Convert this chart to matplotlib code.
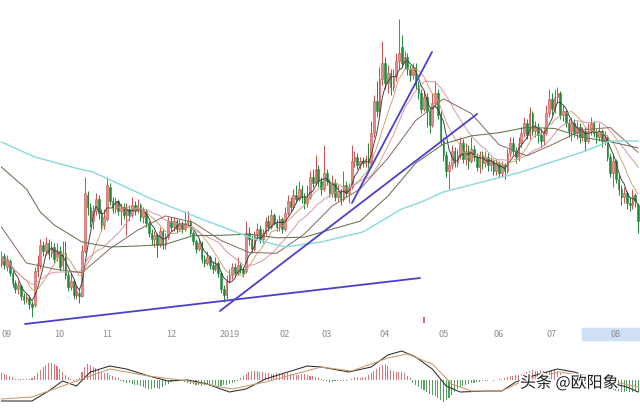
import numpy as np
import pandas as pd
import matplotlib
matplotlib.use("Agg")
import matplotlib.pyplot as plt
import matplotlib.patheffects as pe
from matplotlib.patches import Rectangle
from matplotlib.transforms import blended_transform_factory

plt.rcParams['font.family'] = ['Noto Sans CJK SC', 'DejaVu Sans']

# ---------------------------------------------------------------------------
# daily candles (Sep 2018 - Aug 2019)
# ---------------------------------------------------------------------------
opens = [
    7.5, 8.3, 7.2, 7.8, 6.6, 5.6, 5.0, 5.3, 4.3, 3.9,
    4.1, 3.5, 3.4, 6.8, 7.4, 9.4, 8.8, 9.6, 8.6, 9.2,
    8.2, 8.8, 7.4, 8.6, 6.4, 5.2, 5.8, 4.4, 4.6, 4.3,
    8.8, 14.4, 13.2, 11.8, 12.8, 14.0, 12.6, 11.4, 12.0, 15.2,
    13.8, 13.0, 13.8, 12.8, 13.2, 12.4, 13.0, 12.4, 13.4, 12.8,
    13.4, 12.2, 12.8, 11.6, 10.6, 10.0, 10.4, 9.4, 10.8, 9.4,
    10.2, 11.8, 11.2, 11.8, 11.0, 11.6, 11.0, 11.6, 11.8, 10.6,
    9.8, 9.0, 9.6, 8.0, 7.6, 8.2, 7.4, 7.0, 7.6, 6.6,
    5.0, 4.4, 5.8, 6.4, 7.2, 6.6, 7.4, 7.0, 6.8, 10.6,
    10.0, 9.0, 10.4, 11.0, 10.0, 10.6, 11.8, 11.2, 12.4, 11.6,
    11.2, 12.0, 11.0, 12.6, 13.8, 13.2, 14.4, 14.0, 15.0, 14.2,
    13.6, 14.2, 16.2, 15.6, 17.0, 15.8, 15.0, 16.6, 15.8, 14.6,
    15.6, 14.2, 14.8, 14.0, 15.4, 14.6, 15.2, 17.8, 18.2, 17.4,
    17.8, 17.6, 18.0, 17.6, 20.6, 23.8, 22.8, 26.0, 27.6, 25.6,
    26.6, 25.2, 26.2, 27.8, 29.2, 27.6, 28.2, 27.0, 26.4, 27.2,
    25.4, 24.6, 23.0, 24.2, 22.8, 21.4, 23.6, 24.6, 22.4, 19.8,
    18.4, 16.8, 17.4, 18.8, 17.6, 18.4, 19.6, 18.0, 18.8, 17.8,
    19.0, 18.2, 17.2, 18.4, 17.6, 18.2, 17.4, 17.8, 16.8, 17.6,
    16.6, 17.4, 16.8, 18.6, 19.6, 18.8, 18.2, 19.6, 20.6, 21.6,
    20.4, 22.6, 20.8, 21.2, 20.4, 19.8, 20.6, 22.6, 24.0, 23.0,
    24.2, 24.6, 22.4, 22.8, 21.6, 20.8, 21.6, 20.6, 21.2, 20.2,
    20.8, 19.8, 20.8, 21.6, 20.6, 20.2, 20.8, 19.8, 20.2, 18.2,
    16.6, 17.8, 16.0, 15.0, 14.2, 14.6, 13.6, 13.4, 14.4, 13.4,
]
closes = [
    8.3, 7.4, 8.0, 6.6, 5.6, 5.0, 5.4, 4.3, 3.9, 4.2,
    3.5, 3.2, 6.8, 7.6, 9.4, 8.8, 9.6, 8.5, 9.2, 8.0,
    8.8, 7.2, 8.6, 6.4, 5.2, 5.8, 4.4, 4.8, 4.3, 8.8,
    14.6, 13.2, 11.8, 12.8, 14.0, 12.6, 11.4, 12.2, 15.4, 13.8,
    13.0, 13.8, 12.8, 13.2, 12.4, 13.0, 12.4, 13.4, 12.8, 13.4,
    12.2, 12.8, 11.6, 10.6, 10.0, 10.4, 9.4, 10.8, 9.4, 10.2,
    11.8, 11.2, 11.8, 11.0, 11.6, 11.0, 11.6, 11.8, 10.6, 9.8,
    9.0, 9.6, 8.0, 7.6, 8.2, 7.4, 7.0, 7.6, 6.6, 5.0,
    4.4, 5.8, 6.4, 7.2, 6.6, 7.4, 7.0, 6.6, 10.6, 10.0,
    9.0, 10.4, 11.0, 10.0, 10.6, 11.8, 11.2, 12.4, 11.6, 11.2,
    12.0, 11.0, 12.6, 13.8, 13.2, 14.4, 14.0, 15.0, 14.2, 13.6,
    14.2, 16.2, 15.6, 17.0, 15.8, 15.0, 16.6, 15.8, 14.6, 15.6,
    14.2, 14.8, 14.0, 15.4, 14.6, 15.2, 17.8, 18.2, 17.4, 17.8,
    17.6, 18.0, 17.6, 20.6, 23.8, 22.8, 26.0, 27.6, 25.6, 26.6,
    25.2, 26.2, 27.8, 28.6, 27.6, 28.2, 27.0, 26.4, 27.2, 25.4,
    24.6, 23.0, 24.2, 22.8, 21.4, 23.6, 24.6, 22.4, 19.8, 18.4,
    16.8, 17.4, 18.8, 17.6, 18.4, 19.6, 18.0, 18.8, 17.8, 19.0,
    18.2, 17.2, 18.4, 17.6, 18.2, 17.4, 17.8, 16.8, 17.6, 16.6,
    17.4, 16.8, 18.6, 19.6, 18.8, 18.2, 19.6, 20.6, 21.6, 20.4,
    22.6, 20.8, 21.2, 20.4, 19.8, 20.6, 22.6, 24.0, 23.0, 24.2,
    24.6, 22.4, 22.8, 21.6, 20.8, 21.6, 20.6, 21.2, 20.2, 20.8,
    19.8, 20.8, 21.6, 20.6, 20.2, 20.8, 19.8, 20.2, 18.2, 16.6,
    17.8, 16.0, 15.0, 14.2, 14.6, 13.6, 13.4, 14.4, 13.8, 11.8,
]
highs = [
    8.8, 8.6, 8.4, 8.0, 6.9, 5.9, 5.8, 5.5, 4.6, 4.5,
    4.4, 3.8, 7.2, 8.4, 10.0, 9.8, 10.2, 10.0, 9.8, 9.6,
    9.6, 9.3, 9.8, 9.8, 6.8, 6.6, 6.0, 5.4, 5.0, 9.4,
    16.2, 14.8, 13.6, 13.4, 14.6, 14.4, 13.0, 13.0, 16.2, 15.6,
    14.2, 14.2, 14.0, 13.6, 13.6, 13.6, 13.4, 14.2, 13.8, 14.0,
    13.6, 13.2, 13.0, 11.8, 11.0, 10.8, 10.6, 11.2, 11.0, 10.6,
    12.2, 12.2, 12.2, 12.0, 12.0, 11.8, 12.8, 12.8, 12.0, 10.8,
    10.0, 10.0, 9.8, 8.4, 8.8, 8.4, 7.8, 8.2, 7.8, 6.8,
    5.4, 6.4, 7.0, 7.6, 7.6, 8.2, 7.6, 7.2, 11.8, 11.2,
    10.4, 10.8, 11.6, 11.4, 11.0, 12.2, 12.4, 13.0, 12.6, 12.0,
    12.4, 12.2, 13.2, 14.4, 14.2, 15.0, 15.4, 15.8, 15.4, 14.6,
    15.4, 16.8, 17.0, 18.4, 17.4, 16.2, 19.4, 17.0, 16.0, 16.4,
    16.0, 15.4, 15.0, 16.8, 15.8, 15.6, 19.4, 18.8, 18.6, 18.2,
    18.2, 18.4, 19.6, 21.8, 24.4, 25.8, 27.2, 29.8, 28.2, 27.4,
    27.0, 27.0, 28.6, 32.0, 30.4, 28.8, 28.6, 27.4, 27.6, 27.6,
    25.8, 25.0, 24.8, 24.6, 23.2, 24.6, 25.8, 25.0, 22.8, 20.2,
    18.8, 17.8, 19.4, 19.2, 19.0, 20.2, 20.0, 19.6, 19.4, 20.2,
    19.4, 18.6, 18.8, 18.8, 18.8, 18.6, 18.2, 18.0, 18.0, 17.8,
    17.8, 17.6, 19.0, 20.2, 20.2, 19.2, 20.2, 21.2, 22.2, 22.0,
    23.2, 22.8, 21.8, 21.6, 21.0, 21.2, 23.4, 25.0, 24.6, 25.0,
    25.2, 24.8, 23.4, 23.0, 22.0, 22.2, 22.0, 21.8, 21.6, 21.2,
    21.2, 21.6, 22.2, 21.8, 21.0, 21.6, 21.0, 20.8, 20.4, 18.6,
    18.4, 18.0, 16.4, 15.4, 15.2, 14.8, 14.2, 15.0, 14.6, 13.6,
]
lows = [
    7.2, 7.0, 6.8, 6.3, 5.2, 4.6, 4.5, 3.9, 3.5, 3.6,
    3.0, 2.2, 3.2, 6.2, 7.0, 8.3, 8.4, 8.0, 8.2, 7.6,
    7.8, 6.8, 7.0, 6.0, 4.8, 4.9, 4.0, 4.0, 3.6, 4.2,
    8.6, 12.4, 11.2, 11.0, 12.4, 12.0, 10.8, 11.0, 11.8, 13.4,
    12.6, 12.6, 12.4, 11.4, 12.0, 10.4, 11.8, 12.2, 12.4, 12.6,
    11.8, 11.6, 11.2, 10.2, 9.4, 9.2, 8.2, 9.2, 9.0, 9.0,
    10.0, 10.8, 10.8, 10.6, 10.8, 10.6, 10.8, 11.4, 10.4, 9.4,
    8.6, 8.8, 7.6, 7.2, 7.4, 7.0, 6.6, 6.8, 6.2, 4.6,
    3.7, 4.0, 5.6, 6.0, 6.2, 6.4, 6.6, 6.2, 6.6, 9.4,
    8.6, 8.8, 10.0, 9.6, 9.6, 10.4, 10.8, 11.0, 11.4, 10.8,
    10.8, 10.6, 10.8, 12.4, 12.8, 13.0, 13.6, 13.8, 13.6, 13.0,
    13.2, 14.0, 15.2, 15.4, 15.2, 14.4, 14.8, 15.4, 14.2, 14.2,
    13.8, 13.8, 13.4, 13.8, 14.2, 13.6, 15.0, 17.2, 17.0, 17.0,
    17.2, 17.2, 17.0, 17.4, 20.2, 22.2, 22.4, 25.4, 25.0, 24.6,
    24.4, 24.8, 25.8, 27.0, 27.2, 27.0, 26.4, 25.8, 26.0, 25.0,
    24.0, 22.6, 22.8, 21.2, 20.6, 21.2, 23.2, 22.0, 19.4, 17.8,
    16.2, 15.0, 17.0, 17.2, 17.2, 18.0, 17.6, 17.4, 17.0, 17.6,
    17.8, 16.8, 16.6, 17.0, 17.2, 16.8, 16.8, 16.4, 16.4, 16.2,
    16.2, 16.0, 16.6, 18.2, 18.4, 17.6, 17.8, 19.2, 20.2, 20.0,
    20.0, 20.4, 20.2, 19.6, 19.2, 19.4, 20.4, 22.2, 22.4, 22.6,
    23.6, 22.0, 21.8, 21.2, 20.2, 19.8, 20.2, 20.0, 19.6, 19.8,
    18.8, 19.6, 20.4, 20.2, 19.6, 19.8, 19.2, 19.4, 17.8, 16.2,
    15.2, 15.6, 14.4, 13.4, 13.6, 13.0, 12.8, 13.0, 13.2, 10.6,
]

# long moving averages (history before the window is not visible, so read off)
ma30_idx = [0, 9, 19, 29, 39, 49, 59, 69, 79, 89, 99, 109, 119, 129, 139,
            149, 159, 169, 179, 189, 199, 209, 219, 229]
ma30 = [11.2, 7.6, 7.0, 6.63, 9.02, 10.88, 12.31, 11.66, 9.85, 8.67, 8.57,
        10.5, 13.31, 14.99, 18.07, 21.84, 24.02, 22.55, 19.43, 18.32, 19.55,
        20.91, 21.15, 18.66]
ma60_idx = [0, 9, 14, 19, 29, 39, 49, 59, 69, 79, 89, 99, 109, 119, 129, 139,
            149, 159, 169, 179, 189, 199, 209, 219, 229]
ma60 = [17.2, 15.0, 12.7, 11.4, 9.7, 9.2, 9.3, 9.47, 10.34, 10.37, 10.49,
        10.12, 10.18, 10.99, 11.78, 14.28, 17.58, 19.5, 20.31, 20.63, 21.17,
        21.05, 20.17, 19.73, 19.11]
ma250_idx = [0, 12, 28, 33, 54, 72, 91, 102, 115, 130, 144, 151, 159, 173,
             187, 209, 219, 229]
ma250 = [19.7, 18.2, 17.0, 16.7, 14.0, 12.0, 10.0, 9.2, 9.7, 10.7, 13.0,
         13.7, 14.7, 15.7, 16.7, 18.7, 19.8, 19.8]

# hand-drawn trend lines: (start idx, start price, end idx, end price)
trend_lines = [
    (8.5, 1.5, 150.6, 6.1),
    (78.6, 2.8, 171.1, 22.5),
    (126.1, 13.6, 154.9, 28.7),
]
event_idx = [152]

# month labels
tick_labels = ["09", "10", "11", "12", "2019", "02", "03", "04", "05", "06", "07", "08"]
tick_pos = [2, 21, 38, 61, 82, 102, 117, 138, 159, 179, 198, 221]

# MACD panel
dif_idx = [0, 11, 17, 22, 27, 32, 39, 45, 53, 60, 67, 74, 82, 88, 95, 103, 110,
           115, 125, 133, 139, 144, 149, 155, 160, 165, 175, 180, 185, 191, 200,
           206, 216, 225, 229]
dif = [-2.1, -2.1, -1.1, -0.1, -0.6, 0.8, 1.4, 1.1, 0.4, -0.1, 0.0, -0.4, -1.2,
       -0.9, 0.1, 0.8, 1.4, 1.3, 0.8, 1.3, 2.5, 2.9, 2.3, 1.1, -0.6, -1.2, -1.1,
       -1.1, -0.2, 0.4, 1.1, 0.8, -0.1, -0.7, -1.2]
dea_idx = [0, 11, 24, 39, 53, 67, 83, 95, 115, 126, 139, 146, 155, 162, 169,
           180, 189, 201, 216, 229]
dea = [-1.9, -1.7, -0.4, 1.1, 0.4, -0.1, -0.9, -0.2, 1.3, 0.9, 2.2, 2.6, 1.6,
       -0.4, -1.1, -1.1, 0.1, 0.8, 0.1, -0.7]
macd_hist = [
    0.7, 0.6, 0.5, 0.4, 0.3, 0.1, 0.1, 0.1, 0.1, 0.1,
    0.1, 0.2, 0.4, 0.7, 1.0, 1.3, 1.5, 1.7, 1.7, 1.6,
    1.4, 1.1, 0.8, 0.5, 0.3, 0.1, -0.1, 0.1, 0.2, 0.8,
    1.3, 1.6, 1.5, 1.3, 1.2, 1.0, 0.8, 0.7, 0.7, 0.5,
    0.4, 0.3, 0.2, -0.1, -0.2, -0.3, -0.3, -0.4, -0.5, -0.5,
    -0.6, -0.7, -0.8, -0.9, -0.9, -0.8, -0.8, -0.9, -0.7, -0.5,
    -0.4, -0.2, -0.1, -0.1, 0.0, -0.1, -0.2, -0.3, -0.4, -0.4,
    -0.5, -0.5, -0.6, -0.5, -0.5, -0.6, -0.5, -0.5, -0.6, -0.6,
    -0.5, -0.5, -0.4, -0.3, -0.2, -0.1, 0.2, 0.4, 0.6, 0.8,
    0.9, 0.9, 0.9, 0.8, 0.8, 0.7, 0.7, 0.6, 0.6, 0.7,
    0.7, 0.6, 0.6, 0.7, 0.6, 0.6, 0.5, 0.5, 0.6, 0.6,
    0.5, 0.4, 0.4, 0.3, 0.2, 0.1, -0.1, -0.1, -0.2, -0.2,
    -0.1, -0.1, -0.1, -0.1, -0.1, 0.0, 0.1, 0.3, 0.3, 0.2,
    0.3, 0.3, 0.5, 0.7, 0.9, 1.1, 1.3, 1.5, 1.6, 1.4,
    1.0, 0.9, 0.8, 0.8, 0.8, 0.7, 0.4, 0.2, -0.3, -0.5,
    -0.7, -0.9, -1.0, -1.2, -1.4, -1.5, -1.6, -1.8, -2.0, -2.2,
    -2.0, -1.8, -1.5, -1.2, -0.9, -0.7, -0.6, -0.5, -0.4, -0.3,
    -0.3, -0.2, -0.2, -0.1, -0.1, -0.1, 0.0, -0.1, 0.0, 0.1,
    0.1, 0.2, 0.3, 0.4, 0.4, 0.5, 0.5, 0.6, 0.7, 0.8,
    0.9, 1.0, 0.9, 0.9, 1.0, 0.9, 0.8, 0.9, 1.0, 1.0,
    0.9, 0.7, 0.5, 0.3, -0.1, -0.2, -0.3, -0.3, -0.4, -0.4,
    -0.4, -0.3, -0.3, -0.4, -0.5, -0.6, -0.7, -0.8, -0.9, -1.0,
    -1.0, -1.1, -1.1, -1.2, -1.2, -1.1, -1.2, -1.2, -1.1, -1.2,
]

# ---------------------------------------------------------------------------
# Plot
# ---------------------------------------------------------------------------
o = np.array(opens)
c = np.array(closes)
h = np.array(highs)
l = np.array(lows)
x = np.arange(len(c))
up = c >= o

RED_BODY, RED_EDGE, GREEN = "#e98a8a", "#cf4a4a", "#1f8a36"
XLIM = (-0.5, 229.7)

fig = plt.figure(figsize=(6.4, 4.14), dpi=100)
fig.patch.set_facecolor("white")

ax = fig.add_axes([0, 86 / 414, 1, 328 / 414])
ax.set_xlim(*XLIM)
ax.set_ylim(1.2, 34)
ax.axis("off")

# wicks and bodies
ax.vlines(x[up], l[up], h[up], color=RED_EDGE, lw=0.7, zorder=2)
ax.vlines(x[~up], l[~up], h[~up], color=GREEN, lw=0.7, zorder=2)
body = np.maximum(np.abs(c - o), 0.15)
bottom = np.minimum(o, c)
ax.bar(x[up], body[up], bottom=bottom[up], width=0.6, color=RED_BODY,
       edgecolor=RED_EDGE, linewidth=0.4, zorder=3)
ax.bar(x[~up], body[~up], bottom=bottom[~up], width=0.6, color=GREEN,
       edgecolor=GREEN, linewidth=0.4, zorder=3)

# moving averages
s = pd.Series(c)
for win, col in [(5, "#3a3a3a"), (10, "#c9a070"), (20, "#d890a0")]:
    ax.plot(x, s.rolling(win, min_periods=1).mean(), color=col, lw=0.65, zorder=4)
ax.plot(ma30_idx, ma30, color="#86695a", lw=0.7, zorder=4)
ax.plot(ma60_idx, ma60, color="#5f7450", lw=0.75, zorder=4)
ax.plot(ma250_idx, ma250, color="#86dadd", lw=1.0, zorder=4)

for x0, y0, x1, y1 in trend_lines:
    ax.plot([x0, x1], [y0, y1], color="#4b3fcc", lw=1.3, zorder=5,
            solid_capstyle="round")

ax.plot(event_idx, [1.9] * len(event_idx), marker="|", color="#d04848",
        ms=5, mew=1.2, ls="none", clip_on=False)

# month labels row
trans = blended_transform_factory(ax.transData, fig.transFigure)
fig.add_artist(Rectangle((582 / 640, 73 / 414), 58 / 640, 12 / 414,
                         transform=fig.transFigure, color="#cfe0f6", zorder=0))
for pos, lab in zip(tick_pos, tick_labels):
    ax.text(pos, 79 / 414, lab, transform=trans, ha="center", va="center",
            fontsize=6.5, color="#8c8c8c", clip_on=False)

# MACD
ax2 = fig.add_axes([0, 0, 1, 74 / 414])
ax2.set_xlim(*XLIM)
ax2.set_ylim(-3.3, 4.1)
ax2.axis("off")
hist = np.array(macd_hist)
ax2.bar(x, hist, width=0.38, color=np.where(hist >= 0, "#d8747c", "#55a05c"))
ax2.plot(dif_idx, dif, color="#2a2a2a", lw=0.75)
ax2.plot(dea_idx, dea, color="#c89a72", lw=0.75)

fig.text(520 / 640, 30 / 414, "头条 @欧阳象", fontsize=11.5, color="#1e1e1e",
         ha="left", va="center",
         path_effects=[pe.withStroke(linewidth=2.5, foreground="white")])

fig.savefig("out.png", dpi=100)
